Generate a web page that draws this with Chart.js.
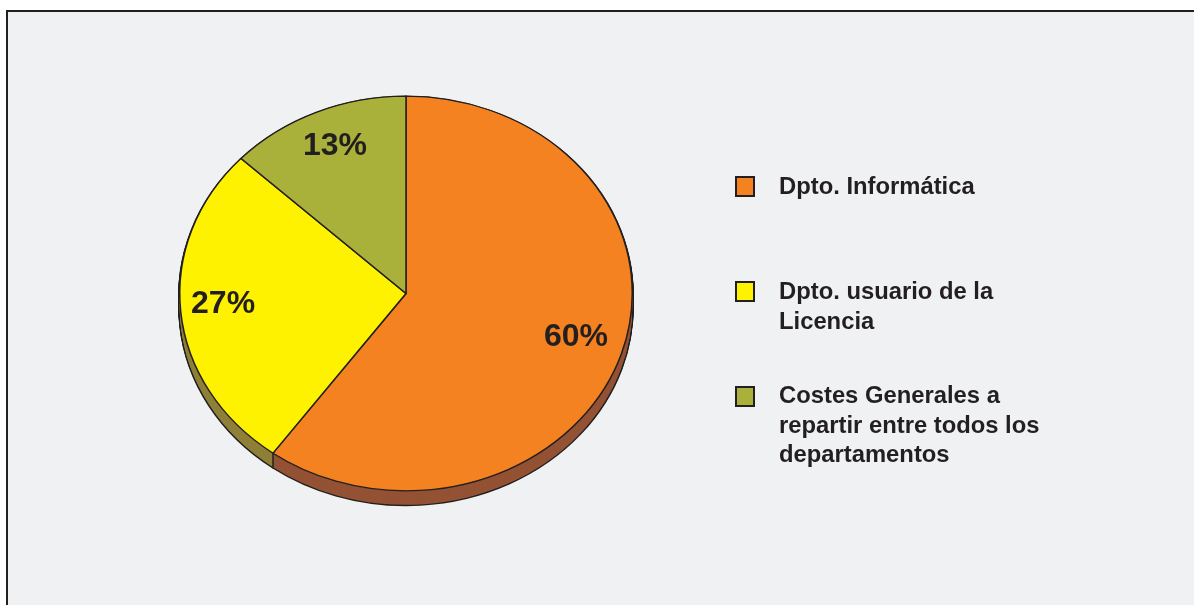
<!DOCTYPE html>
<html>
<head>
<meta charset="utf-8">
<script src="https://cdn.jsdelivr.net/npm/chart.js@4"></script>
<style>
    html, body { margin: 0; padding: 0; background: #fff; overflow: hidden; }
    #frame { position: absolute; left: 6px; top: 10px; width: 1300px; height: 700px; background: #eff1f3; border: 2.5px solid #231f20; box-sizing: border-box; }
    #wrap { position: absolute; left: 0; top: 0; width: 1194px; height: 605px; }
    canvas { display: block; }
</style>
</head>
<body>
<div id="frame"></div>
<div id="wrap"><canvas id="pieChart" width="1194" height="605"></canvas></div>
<script>
const categories = ['Dpto. Informática', 'Dpto. usuario de la Licencia', 'Costes Generales a repartir entre todos los departamentos'];
const legendLines = [['Dpto. Informática'], ['Dpto. usuario de la', 'Licencia'], ['Costes Generales a', 'repartir entre todos los', 'departamentos']];
const values = [60, 27, 13];
const colors = ['#f58220', '#fff200', '#a9b13a'];
const sideColors = ['#945234', '#8f7f37', '#6f7530'];

const ink = '#231f20';
const squash = 198 / 227;  // pie is drawn as an ellipse
const depth = 14;
const labelRadius = [0.79, 0.812, 0.79];
const labelShift = [5, 4, 4];

// keeps the arcs from the library but fills them with other options
function drawArcs(arcs, ctx, dy, side, border) {
    ctx.save();
    ctx.translate(0, dy);
    arcs.forEach((arc, i) => {
        const o = arc.options;
        const copy = Object.create(o);
        copy.backgroundColor = side[i];
        copy.borderWidth = border ? 3 : 0;
        copy.borderColor = ink;
        arc.options = copy;
        arc.draw(ctx);
        arc.options = o;
    });
    ctx.restore();
}

const pie3d = {
    id: 'pie3d',
    beforeDatasetsDraw(chart) {
        const ctx = chart.ctx;
        const arcs = chart.getDatasetMeta(0).data;
        const cx = arcs[0].x, cy = arcs[0].y;
        ctx.save();
        ctx.translate(cx, cy);
        ctx.scale(1, squash);
        ctx.translate(-cx, -cy);
        // outline of the extruded side first, then the fill on top of it
        for (let d = depth; d > 0; d--) drawArcs(arcs, ctx, d / squash, sideColors, true);
        for (let d = depth; d > 0; d--) drawArcs(arcs, ctx, d / squash, sideColors, false);
        // seam between the side faces
        const r = arcs[0].outerRadius;
        const a = arcs[0].endAngle;
        ctx.beginPath();
        ctx.moveTo(cx + r * Math.cos(a), cy + r * Math.sin(a));
        ctx.lineTo(cx + r * Math.cos(a), cy + r * Math.sin(a) + depth / squash);
        ctx.strokeStyle = ink;
        ctx.lineWidth = 1.5;
        ctx.stroke();
    },
    afterDatasetsDraw(chart) {
        chart.ctx.restore();
    },
    afterDraw(chart) {
        const ctx = chart.ctx;
        const arcs = chart.getDatasetMeta(0).data;
        ctx.save();
        ctx.fillStyle = ink;
        ctx.textBaseline = 'middle';
        ctx.textAlign = 'center';
        ctx.font = 'bold 32px "Liberation Sans"';
        arcs.forEach((arc, i) => {
            const mid = (arc.startAngle + arc.endAngle) / 2;
            const r = arc.outerRadius * labelRadius[i];
            ctx.fillText(values[i] + '%', arc.x + r * Math.cos(mid), arc.y + r * Math.sin(mid) * squash - labelShift[i]);
        });

        // legend
        const tops = [177, 282, 387];
        const baselines = [194, 299, 403];
        ctx.textAlign = 'left';
        ctx.textBaseline = 'alphabetic';
        ctx.font = 'bold 23.8px "Liberation Sans"';
        legendLines.forEach((lines, i) => {
            ctx.fillStyle = colors[i];
            ctx.fillRect(736, tops[i], 18, 19);
            ctx.strokeStyle = ink;
            ctx.lineWidth = 2;
            ctx.strokeRect(736, tops[i], 18, 19);
            ctx.fillStyle = ink;
            lines.forEach((line, j) => ctx.fillText(line, 779, baselines[i] + j * 29.5));
        });
        ctx.restore();
    }
};

new Chart(document.getElementById('pieChart').getContext('2d'), {
    type: 'pie',
    data: {
        labels: categories,
        datasets: [{
            data: values,
            backgroundColor: colors,
            borderColor: ink,
            borderWidth: 1.5,
            borderJoinStyle: 'round',
            clip: false
        }]
    },
    options: {
        responsive: false,
        animation: false,
        events: [],
        layout: { padding: { left: 179, right: 561, top: 66.5, bottom: 84.5 } },
        plugins: { legend: { display: false }, tooltip: { enabled: false } }
    },
    plugins: [pie3d]
});
</script>
</body>
</html>
